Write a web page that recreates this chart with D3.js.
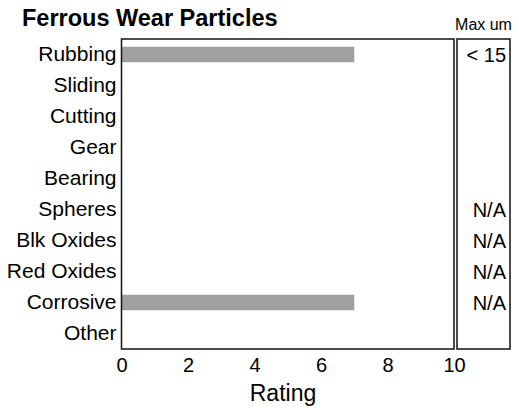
<!DOCTYPE html>
<html><head><meta charset="utf-8">
<script src="https://cdn.jsdelivr.net/npm/d3@7"></script>
<style>body{margin:0;background:#fff}</style>
</head><body>
<script>
const categories = ["Rubbing","Sliding","Cutting","Gear","Bearing","Spheres","Blk Oxides","Red Oxides","Corrosive","Other"];
const ratings = [7,0,0,0,0,0,0,0,7,0];
const maxUm = ["< 15","","","","","N/A","N/A","N/A","N/A",""];
const xTicks = [0,2,4,6,8,10];

const W=519,H=410;
const FF="Arial, Liberation Sans, sans-serif";
const svg=d3.select("body").append("svg").attr("width",W).attr("height",H)
  .style("font-family",FF);
const m={l:121.5,r:454,t:39,b:349};
const x=d3.scaleLinear().domain([0,10]).range([m.l,m.r]);
const y=d3.scaleBand().domain(categories).range([m.t,m.b]).paddingInner(0.5).paddingOuter(0.25);

svg.append("text").attr("x",22).attr("y",25.5).attr("font-size",23.5).attr("font-weight","bold").text("Ferrous Wear Particles");

svg.selectAll("rect.bar").data(categories).join("rect").attr("class","bar")
  .attr("x",x(0)).attr("y",d=>y(d)).attr("height",y.bandwidth())
  .attr("width",(d,i)=>x(ratings[i])-x(0)).attr("fill","#a0a0a0");

svg.append("rect").attr("x",m.l).attr("y",m.t).attr("width",m.r-m.l).attr("height",m.b-m.t)
  .attr("fill","none").attr("stroke","#111").attr("stroke-width",1.5);

const yAxis=svg.append("g").attr("transform",`translate(${m.l},0)`).call(d3.axisLeft(y).tickSize(0).tickPadding(5));
yAxis.select(".domain").remove();
yAxis.selectAll("text").attr("font-size",21).attr("fill","#000").attr("font-family",FF);

const xAxis=svg.append("g").attr("transform",`translate(0,${m.b})`).call(d3.axisBottom(x).tickValues(xTicks).tickSize(0).tickPadding(8.5));
xAxis.select(".domain").remove();
xAxis.selectAll("text").attr("font-size",20).attr("fill","#000").attr("font-family",FF);

svg.append("text").attr("x",283).attr("y",401).attr("text-anchor","middle").attr("font-size",23).text("Rating");

const bx={l:457,r:510};
svg.append("rect").attr("x",bx.l).attr("y",m.t).attr("width",bx.r-bx.l).attr("height",m.b-m.t)
  .attr("fill","none").attr("stroke","#111").attr("stroke-width",1.5);
svg.append("text").attr("x",483.5).attr("y",30).attr("text-anchor","middle").attr("font-size",16).text("Max um");
svg.selectAll("text.mu").data(categories).join("text").attr("class","mu")
  .attr("x",506).attr("y",d=>y(d)+y.bandwidth()/2).attr("dy","0.35em").attr("text-anchor","end")
  .attr("font-size",20).text((d,i)=>maxUm[i]);
</script>
</body></html>
